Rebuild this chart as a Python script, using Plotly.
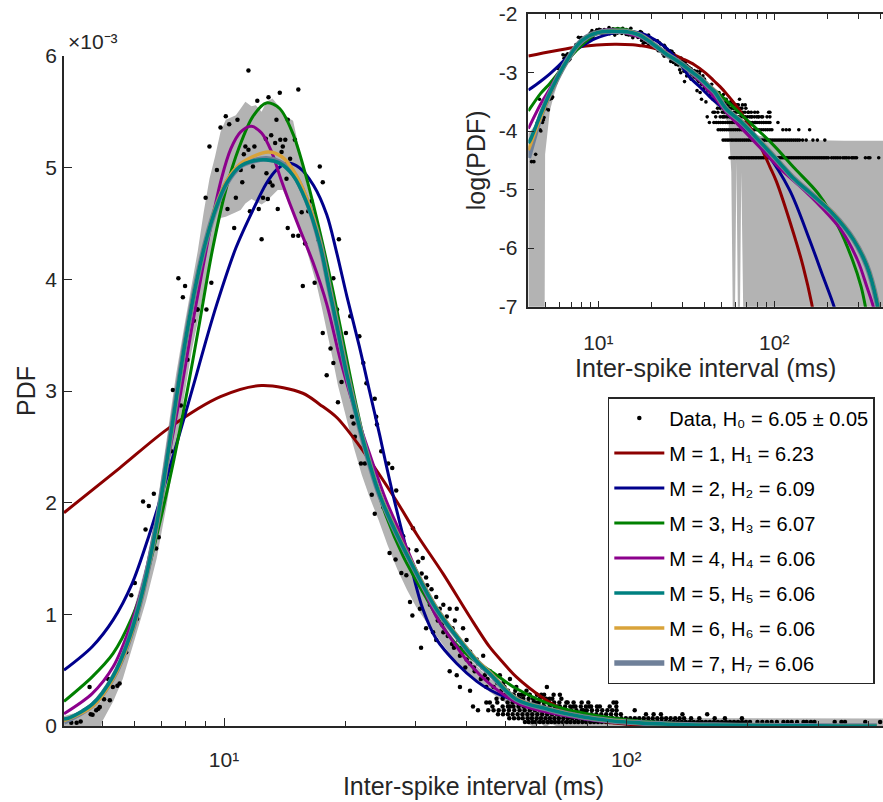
import numpy as np
import plotly.graph_objects as go

# ---------------- data (x in ms, PDF values in units of 1e-3) ----------------
# fitted maximum-entropy models, M = 1..7
m1_ms = [4.0, 5.5, 7.3, 9.8, 12.4, 15.7, 17.3, 19.1, 22.2, 26.8, 30.1, 35.1, 40.8, 45.7, 49.2, 53.3, 62.1, 66.8, 71.0, 82.1, 94.5, 102.9, 128.5, 146.2, 163.1, 185, 220]
m1_v = [1.91, 2.31, 2.67, 2.95, 3.05, 2.98, 2.88, 2.76, 2.46, 2.02, 1.72, 1.36, 0.98, 0.71, 0.575, 0.44, 0.25, 0.18, 0.135, 0.061, 0.0245, 0.0138, 0.00183, 0.00048, 0.000115, 0.000012, 0.0000003]

m2_ms = [4.0, 4.7, 5.3, 5.9, 6.5, 7.2, 7.9, 8.5, 9.0, 9.6, 10.7, 11.8, 12.75, 13.5, 14.3, 15.4, 16.7, 18.0, 19.0, 20.2, 21.7, 23.0, 24.4, 25.3, 26.8, 29.5, 31.2, 33.7, 37.9, 42.5, 46.0, 53.5, 64.0, 70.0, 78.0, 90.5, 122.4, 159.0, 190.0, 219.0, 260.0]
m2_v = [0.50, 0.71, 0.95, 1.27, 1.70, 2.22, 2.72, 3.12, 3.44, 3.78, 4.28, 4.62, 4.86, 4.98, 5.04, 5.00, 4.84, 4.58, 4.26, 3.85, 3.40, 3.00, 2.60, 2.34, 1.95, 1.36, 1.05, 0.78, 0.56, 0.40, 0.32, 0.22, 0.135, 0.10, 0.068, 0.042, 0.0098, 0.00138, 0.00032, 0.0001, 0.000015]

m3_ms = [4.0, 4.7, 5.3, 5.9, 6.4, 6.9, 7.5, 8.1, 8.7, 9.0, 9.4, 10.1, 10.9, 11.8, 12.75, 13.75, 14.85, 16.0, 17.3, 18.7, 20.0, 21.35, 23.0, 25.3, 27.9, 31.9, 36.4, 40.8, 46.6, 53.0, 67.2, 96.9, 131, 178, 232, 279, 312, 330, 360]
m3_v = [0.22, 0.44, 0.65, 0.97, 1.33, 1.80, 2.38, 3.00, 3.62, 3.93, 4.30, 4.80, 5.18, 5.46, 5.58, 5.53, 5.30, 4.92, 4.43, 3.88, 3.36, 2.86, 2.36, 1.88, 1.52, 1.14, 0.80, 0.62, 0.48, 0.34, 0.174, 0.0617, 0.0229, 0.0085, 0.00229, 0.00062, 0.00022, 0.0001, 0.00002]

m4_ms = [4.0, 4.7, 5.3, 5.8, 6.3, 6.8, 7.2, 7.8, 8.3, 8.8, 9.3, 9.85, 10.4, 11.0, 11.7, 12.4, 13.1, 13.9, 14.57, 15.43, 16.65, 18.0, 19.4, 20.9, 23.0, 25.3, 27.9, 30.7, 33.7, 37.9, 40.9, 46.0, 53.3, 58.6, 82.1, 107.7, 140.8, 183.9, 240, 298, 336, 366, 400]
m4_v = [0.11, 0.29, 0.53, 0.86, 1.28, 1.84, 2.32, 2.98, 3.55, 4.05, 4.50, 4.90, 5.17, 5.32, 5.37, 5.31, 5.15, 4.88, 4.68, 4.45, 4.15, 3.78, 3.30, 2.89, 2.44, 2.02, 1.67, 1.31, 0.98, 0.71, 0.55, 0.37, 0.21, 0.155, 0.054, 0.0229, 0.0112, 0.0051, 0.00204, 0.00062, 0.00022, 0.0001, 0.00003]

m5_ms = [4.0, 4.14, 4.72, 5.29, 5.83, 6.29, 6.78, 7.19, 7.62, 8.06, 8.54, 9.04, 9.57, 10.14, 10.94, 11.8, 12.75, 13.75, 14.85, 16.0, 17.3, 18.3, 19.1, 20.2, 22.2, 24.2, 26.8, 30.1, 33.7, 37.9, 42.5, 45.8, 53.3, 64.3, 78.2, 90.5, 107.7, 128.2, 166.7, 217, 282, 336, 382, 420]
m5_v = [0.062, 0.075, 0.20, 0.44, 0.80, 1.22, 1.78, 2.35, 2.95, 3.50, 3.98, 4.36, 4.65, 4.86, 5.01, 5.06, 5.07, 5.04, 4.93, 4.70, 4.32, 3.90, 3.58, 3.15, 2.55, 2.10, 1.73, 1.37, 1.05, 0.80, 0.58, 0.47, 0.24, 0.148, 0.080, 0.050, 0.0282, 0.0158, 0.0079, 0.0038, 0.00141, 0.0005, 0.000126, 0.00002]

m6_ms = [4.0, 4.72, 5.29, 5.83, 6.29, 6.78, 7.19, 7.62, 8.06, 8.54, 9.04, 9.57, 10.14, 10.94, 11.8, 12.9, 13.9, 14.85, 16.0, 17.3, 18.3, 19.1, 20.2, 22.2, 24.2, 26.8, 30.1, 33.7, 37.9, 42.5, 45.8, 53.3, 64.3, 78.2, 90.5, 107.7, 128.2, 166.7, 217, 282, 336, 382, 420]
m6_v = [0.047, 0.18, 0.42, 0.78, 1.21, 1.77, 2.34, 2.94, 3.50, 3.98, 4.36, 4.66, 4.88, 5.03, 5.10, 5.14, 5.10, 4.98, 4.74, 4.34, 3.92, 3.60, 3.17, 2.56, 2.11, 1.74, 1.38, 1.06, 0.81, 0.59, 0.48, 0.245, 0.150, 0.081, 0.051, 0.0285, 0.016, 0.0080, 0.0039, 0.00143, 0.00051, 0.00013, 0.00002]

m7_ms = [4.0, 4.72, 5.29, 5.83, 6.29, 6.78, 7.19, 7.62, 8.06, 8.54, 9.04, 9.57, 10.14, 10.94, 11.8, 12.75, 13.75, 14.85, 16.0, 17.3, 18.3, 19.1, 20.2, 22.2, 24.2, 26.8, 30.1, 33.7, 37.9, 42.5, 45.8, 53.3, 64.3, 78.2, 90.5, 107.7, 128.2, 166.7, 217, 282, 336, 382, 420]
m7_v = [0.035, 0.19, 0.43, 0.79, 1.22, 1.78, 2.35, 2.95, 3.50, 3.98, 4.36, 4.65, 4.86, 5.01, 5.06, 5.08, 5.05, 4.95, 4.72, 4.33, 3.91, 3.59, 3.16, 2.55, 2.10, 1.73, 1.37, 1.05, 0.80, 0.58, 0.47, 0.24, 0.148, 0.080, 0.050, 0.0282, 0.0158, 0.0079, 0.0038, 0.00141, 0.0005, 0.000126, 0.00002]

model_labels = ["M = 1, H₁ = 6.23", "M = 2, H₂ = 6.09", "M = 3, H₃ = 6.07", "M = 4, H₄ = 6.06",
                "M = 5, H₅ = 6.06", "M = 6, H₆ = 6.06", "M = 7, H₇ = 6.06"]
data_label = "Data, H₀ = 6.05 ± 0.05"

# empirical histogram points (ms, PDF x1e-3), rise / peak / right flank
data_pts = [
    (4.17, 0.03), (4.30, 0.03), (4.40, 0.04), (4.50, 0.14), (4.63, 0.35), (4.66, 0.105), (4.71, 0.10),
    (4.81, 0.14), (4.87, 0.155), (4.91, 0.17), (5.03, 0.24), (5.15, 0.42), (5.2, 0.23), (5.29, 0.35),
    (5.43, 0.36), (5.50, 0.38), (5.71, 0.66), (5.88, 1.17), (6.00, 1.28), (6.08, 0.96), (6.19, 1.14),
    (6.29, 2.01), (6.38, 1.76), (6.50, 1.97), (6.69, 2.08), (6.78, 1.59), (6.88, 1.69), (7.39, 2.46),
    (7.46, 3.01), (7.81, 2.87), (8.11, 3.28), (8.41, 3.63), (8.57, 3.73), (9.04, 3.73),
    (11.5, 5.87), (15.3, 5.70), (13.76, 5.67), (12.9, 5.63), (12.1, 5.60), (10.1, 5.46), (10.8, 5.43),
    (10.3, 5.39), (9.8, 5.36), (13.5, 5.43), (14.4, 5.43), (13.1, 5.29), (12.7, 5.26), (13.4, 5.22),
    (13.8, 5.25), (14.2, 5.25), (15.0, 5.25), (14.0, 5.19), (9.2, 5.19), (11.3, 5.19), (11.9, 5.19),
    (11.5, 5.16), (11.2, 5.12), (13.9, 5.14), (9.6, 4.98), (11.0, 4.98), (11.8, 5.01), (12.75, 4.95),
    (14.3, 4.90), (17.3, 5.01), (17.6, 4.87), (11.1, 4.87), (13.0, 4.87), (13.2, 4.84), (14.6, 5.08),
    (9.0, 4.73), (10.7, 4.73), (12.5, 4.73), (12.85, 4.72), (10.2, 4.63), (11.6, 4.61), (12.2, 4.63),
    (13.6, 4.63), (16.5, 4.70), (16.2, 4.61), (16.7, 4.56), (15.6, 4.60), (10.6, 4.46), (14.4, 4.46),
    (14.85, 4.39), (15.3, 4.39), (12.4, 4.36), (15.9, 4.32), (17.2, 4.35), (19.3, 4.36), (7.7, 4.01),
    (8.0, 3.94), (9.3, 3.97), (7.9, 3.84), (8.6, 3.73), (15.7, 3.94), (16.8, 3.97), (18.7, 4.01),
    (17.6, 3.52), (18.0, 3.14), (18.4, 3.38), (18.7, 3.25), (19.1, 3.73), (19.2, 2.90), (19.6, 3.08),
    (20.1, 3.52), (20.6, 3.67), (21.7, 3.49), (20.8, 2.77), (21.0, 2.71), (21.15, 2.59), (22.2, 3.25),
    (22.6, 3.07), (23.7, 2.93), (23.9, 2.77), (24.0, 2.70), (24.6, 2.46), (25.6, 2.35), (26.2, 2.31),
    (21.9, 2.35), (22.4, 2.35), (23.3, 2.07), (23.7, 1.90), (24.9, 1.96), (26.8, 2.11), (25.9, 1.86),
    (26.8, 1.78), (27.9, 1.70), (25.8, 1.55), (26.7, 1.49), (27.6, 1.37), (28.4, 1.35), (29.5, 1.77),
    (28.7, 1.58), (29.0, 1.11), (29.4, 0.99),
]

# histogram points beyond 30 ms given as spike counts per 0.1 ms bin (ms, count)
BIN_PDF = 0.0350  # PDF (x1e-3) of a single ISI in one bin
cloud_counts = [
    (30.1, 45), (31.2, 43), (30.4, 42), (31.0, 39), (31.8, 38), (30.7, 30), (32.8, 35), (33.7, 33),
    (35.1, 31), (36.4, 30), (37.9, 30), (34.4, 30), (35.8, 28), (37.5, 27), (31.8, 25), (33.1, 24),
    (33.7, 22), (35.1, 24), (30.9, 20), (39.3, 25), (40.1, 22), (40.9, 19), (36.4, 14), (37.9, 13),
    (38.6, 10), (40.9, 9), (41.6, 5), (42.8, 4), (42.5, 17), (44.1, 18), (44.9, 14), (44.9, 6),
    (40.1, 17), (37.3, 20), (38.6, 18), (39.7, 19), (40.9, 16), (42.0, 14), (44.5, 13), (45.8, 14),
    (47.1, 12), (44.9, 10), (48.5, 13), (49.5, 11), (50.5, 8), (51.4, 12), (53.3, 10), (54.4, 7),
    (56.5, 9), (58.7, 7), (47.6, 7), (45.8, 6), (51.4, 5), (63.5, 10), (68.4, 8), (62.1, 5),
    (71.0, 6), (94.5, 6), (78.2, 4), (32.0, 36), (32.5, 31), (34.0, 27), (34.8, 26), (36.0, 23),
    (36.9, 21), (37.0, 25), (38.2, 22), (39.0, 20), (39.8, 15), (41.2, 18), (41.8, 15), (42.8, 16),
    (43.5, 12), (43.9, 15), (45.2, 12), (46.2, 13), (46.8, 10), (47.8, 11), (48.9, 9), (49.8, 10),
    (50.8, 9), (52.2, 8), (53.0, 9), (55.0, 8), (57.5, 8), (59.5, 6), (61.5, 8), (64.5, 7),
    (67.5, 5), (74.0, 5), (81.0, 5), (86.0, 5), (91.0, 5),
]
# bins of the tail holding exactly 1..8 ISIs (ms)
count1_ms = [56.0, 57.2, 58.5, 59.6, 61.0, 62.3, 63.8, 65.1, 66.5, 68.0, 69.6, 71.2, 72.7, 74.4, 76.0, 77.8,
             79.5, 81.4, 83.2, 85.1, 87.0, 89.1, 91.0, 93.2, 95.3, 97.6, 99.8, 102.0, 104.5, 106.9, 109.3,
             111.9, 114.4, 117.1, 119.8, 122.6, 125.4, 128.3, 131.3, 134.4, 137.5, 140.7, 144.0, 147.3,
             150.8, 154.2, 157.8, 161.5, 165.3, 169.1, 173.0, 177.1, 181.2, 185.4, 189.7, 194.1, 198.6,
             203.2, 212, 218, 224, 230, 237, 246, 252, 258, 266, 276, 281, 288, 294, 330, 343, 350, 393, 428]
count2_ms = [51.2, 52.6, 54.0, 55.3, 56.9, 58.3, 59.9, 61.4, 63.0, 64.6, 66.3, 68.0, 69.8, 71.6, 73.4, 75.3,
             77.3, 79.3, 81.4, 83.5, 85.6, 87.9, 90.1, 92.5, 94.8, 97.3, 99.8, 102.4, 105.1, 107.8, 110.6,
             113.5, 116.4, 119.5, 122.6, 125.7, 129.0, 132.4, 135.8, 139.3, 145, 152, 166, 176, 194]
count3_ms = [48.0, 49.4, 50.8, 52.2, 53.7, 55.2, 56.8, 58.4, 60.1, 61.8, 63.6, 65.4, 67.3, 69.2, 71.2, 73.2,
             75.3, 77.5, 79.7, 82.0, 84.3, 86.7, 89.2, 91.7, 94.4, 97.0, 112, 117, 122, 138, 159]
count4_ms = [45.4, 46.8, 48.2, 49.6, 51.1, 52.7, 54.3, 55.9, 57.6, 59.3, 61.1, 62.9, 64.8, 66.8, 68.8, 70.9,
             73.0, 75.2, 77.5, 79.8, 82.2, 84.7, 87.2, 89.8, 92.3, 94.6, 105]
count5_ms = [46.5, 49.3, 50.8, 52.4, 54.0, 55.6, 57.3, 59.0, 60.8, 62.6, 64.5, 66.4, 68.4, 70.5, 72.6,
             74.8, 77.1, 79.4, 81.8, 84.6, 94.5]
count6_ms = [47.8, 50.7, 52.2, 53.8, 55.4, 57.1, 58.8, 60.6, 62.4, 64.3, 66.2, 68.2, 71.5, 74.0, 77.5, 80.5, 93]
count7_ms = [49.3, 52.3, 53.9, 55.5, 57.2, 58.9, 61.0, 63.2, 65.5, 69.0]
count8_ms = [50.2, 52.5, 54.1, 55.7, 57.5, 60.0, 62.5, 66.0]

# error band of the histogram (ms, lower, upper), PDF x1e-3
band_ms = [4.0, 4.4, 4.8, 4.93, 4.98, 5.3, 5.6, 6.0, 6.4, 6.8, 7.2, 7.6, 8.0, 8.3, 8.6, 8.9, 9.2, 9.5, 9.8, 10.1,
           10.4, 10.7, 11.0, 11.3, 11.7, 12.0, 12.4, 12.75, 13.2, 13.6, 14.0, 14.4, 14.85, 15.2, 15.6, 16.0,
           16.5, 17.0, 17.5, 18.0, 18.6, 19.2, 20.0, 21.0, 22.0, 23.0, 24.2, 25.5, 27.0, 28.5, 30.0, 32.0,
           34.0, 36.0, 38.0, 40.0, 43.0, 46.0, 49.0, 52.0, 55.0, 57.0, 59.0, 61.0, 63.0, 65.0, 68.0, 72.0,
           80.0, 100.0, 150.0, 250.0, 450.0]
band_hi = [0.09, 0.13, 0.20, 0.22, 0.26, 0.45, 0.68, 1.08, 1.45, 1.95, 2.55, 3.15, 3.62, 3.95, 4.25, 4.60, 4.90,
           5.10, 5.32, 5.43, 5.45, 5.47, 5.53, 5.59, 5.55, 5.56, 5.50, 5.59, 5.62, 5.56, 5.50, 5.45, 5.42, 5.25,
           5.05, 4.88, 4.70, 4.50, 4.30, 4.05, 3.80, 3.55, 3.25, 2.90, 2.65, 2.40, 2.15, 1.93, 1.70, 1.50, 1.32,
           1.15, 1.00, 0.86, 0.74, 0.64, 0.52, 0.42, 0.35, 0.29, 0.24, 0.20, 0.18, 0.17, 0.15, 0.14, 0.12, 0.10,
           0.085, 0.072, 0.070, 0.068, 0.068]
band_lo = [-0.05, -0.05, -0.03, -0.03, 0.04, 0.22, 0.42, 0.78, 1.12, 1.50, 1.98, 2.50, 3.00, 3.35, 3.62, 3.88,
           4.15, 4.35, 4.55, 4.56, 4.58, 4.60, 4.62, 4.68, 4.72, 4.70, 4.67, 4.70, 4.75, 4.80, 4.80, 4.70, 4.60,
           4.50, 4.42, 4.30, 4.12, 3.95, 3.75, 3.55, 3.30, 3.05, 2.80, 2.50, 2.25, 2.05, 1.85, 1.62, 1.40, 1.22,
           1.07, 0.92, 0.79, 0.67, 0.57, 0.48, 0.38, 0.30, 0.23, 0.18, 0.13, 0.02, -0.01, 0.03, -0.01, 0.02,
           -0.01, -0.02, -0.02, -0.02, -0.02, -0.02, -0.02]

x_major = [10, 100]
x_major_text = ["10¹", "10²"]
x_minor = [4, 5, 6, 7, 8, 9, 20, 30, 40, 50, 60, 70, 80, 90, 200, 300, 400]
y_main_ticks = [0, 1, 2, 3, 4, 5, 6]
y_inset_ticks = [-2, -3, -4, -5, -6, -7]

colors = ["#8c0000", "#00008c", "#008000", "#8c008c", "#008080", "#d9a33a", "#6f8099"]
widths = [3, 3, 3, 3, 3.6, 3.4, 5.5]

# ---------------- assemble ----------------
models = [(m1_ms, m1_v), (m2_ms, m2_v), (m3_ms, m3_v), (m4_ms, m4_v),
          (m5_ms, m5_v), (m6_ms, m6_v), (m7_ms, m7_v)]

dots_x = [p[0] for p in data_pts] + [c[0] for c in cloud_counts]
dots_v = [p[1] for p in data_pts] + [c[1] * BIN_PDF for c in cloud_counts]
for k, row in enumerate([count1_ms, count2_ms, count3_ms, count4_ms, count5_ms, count6_ms, count7_ms, count8_ms], start=1):
    dots_x += row
    dots_v += [k * BIN_PDF] * len(row)


def log_pdf(vals, floor=-9.0):
    return [np.log10(v * 1e-3) if v > 0 else floor for v in vals]


AX = "#262626"
FONT = "Liberation Sans, Arial, sans-serif"

fig = go.Figure()

# band
poly_x = band_ms + band_ms[::-1]
fig.add_trace(go.Scatter(x=poly_x, y=band_hi + band_lo[::-1], fill="toself", fillcolor="#b3b3b3",
                         line=dict(width=0), mode="lines", hoverinfo="skip", showlegend=False,
                         xaxis="x", yaxis="y"))
fig.add_trace(go.Scatter(x=poly_x, y=log_pdf(band_hi) + log_pdf(band_lo)[::-1], fill="toself",
                         fillcolor="#b3b3b3", line=dict(width=0), mode="lines", hoverinfo="skip",
                         showlegend=False, xaxis="x2", yaxis="y2"))

# data dots
fig.add_trace(go.Scatter(x=dots_x, y=dots_v, mode="markers", name=data_label, legendgroup="g0",
                         marker=dict(color="black", size=4.5), legendrank=1, xaxis="x", yaxis="y"))
fig.add_trace(go.Scatter(x=dots_x, y=log_pdf(dots_v), mode="markers", showlegend=False,
                         marker=dict(color="black", size=3.6), xaxis="x2", yaxis="y2"))

# model curves (drawn 1,2,3,4,7,6,5 so that the close M=5..7 curves stack as in the figure)
for i in [0, 1, 2, 3, 6, 5, 4]:
    xs, vs = models[i]
    fig.add_trace(go.Scatter(x=xs, y=vs, mode="lines", name=model_labels[i], legendrank=i + 2,
                             legendgroup="g%d" % (i + 1),
                             line=dict(color=colors[i], width=widths[i], shape="spline", smoothing=0.9),
                             xaxis="x", yaxis="y"))
    fig.add_trace(go.Scatter(x=xs, y=log_pdf(vs), mode="lines", showlegend=False,
                             line=dict(color=colors[i], width=widths[i], shape="spline", smoothing=0.9),
                             xaxis="x2", yaxis="y2"))

common_x = dict(type="log", showline=True, linecolor=AX, linewidth=1.5, ticks="inside", tickcolor=AX,
                tickwidth=1.3, tickvals=x_major, ticktext=x_major_text, showgrid=False, zeroline=False,
                tickfont=dict(size=21, color=AX, family=FONT),
                minor=dict(tickvals=x_minor, ticks="inside", ticklen=5, tickcolor=AX, tickwidth=1.1))

fig.update_layout(
    width=883, height=802, margin=dict(l=64, r=0, t=14, b=76),
    paper_bgcolor="white", plot_bgcolor="white",
    font=dict(family=FONT, color=AX),
    xaxis=dict(**common_x, range=[np.log10(4), 2.6386], domain=[0, 1], anchor="y", ticklen=8,
               ticklabelstandoff=14,
               title=dict(text="Inter-spike interval (ms)", font=dict(size=25, color=AX, family=FONT), standoff=8)),
    yaxis=dict(range=[0, 6], domain=[0, 0.941], anchor="x", showline=True, linecolor=AX, linewidth=1.5,
               ticks="inside", ticklen=8, tickcolor=AX, tickwidth=1.3, tickvals=y_main_ticks,
               ticktext=[str(t) for t in y_main_ticks], showgrid=False, zeroline=False,
               tickfont=dict(size=21, color=AX, family=FONT), ticklabelstandoff=1,
               title=dict(text="PDF", font=dict(size=25, color=AX, family=FONT), standoff=3)),
    xaxis2=dict(**common_x, range=[np.log10(4), 2.6186], domain=[0.567, 1], anchor="y2", ticklen=6,
                mirror="ticks", ticklabelstandoff=16,
                title=dict(text="Inter-spike interval (ms)", font=dict(size=25, color=AX, family=FONT), standoff=5)),
    yaxis2=dict(range=[-7, -2], domain=[0.589, 1], anchor="x2", showline=True, linecolor=AX, linewidth=1.5,
                ticks="inside", ticklen=6, tickcolor=AX, tickwidth=1.3, tickvals=y_inset_ticks,
                ticktext=[str(t) for t in y_inset_ticks], showgrid=False, zeroline=False,
                tickfont=dict(size=21, color=AX, family=FONT), ticklabelstandoff=5,
                title=dict(text="log(PDF)", font=dict(size=25, color=AX, family=FONT), standoff=6)),
    legend=dict(x=0.664, y=0.462, xanchor="left", yanchor="top", bgcolor="white", bordercolor=AX,
                borderwidth=1.5, font=dict(size=20, color="black", family=FONT), traceorder="grouped",
                itemwidth=50, tracegroupgap=6),
    annotations=[dict(text="×10⁻³", xref="paper", yref="paper", x=0.002, y=0.9424,
                      xanchor="left", yanchor="bottom", showarrow=False,
                      font=dict(size=21, color=AX, family=FONT))],
)

fig.write_html("out.html")
